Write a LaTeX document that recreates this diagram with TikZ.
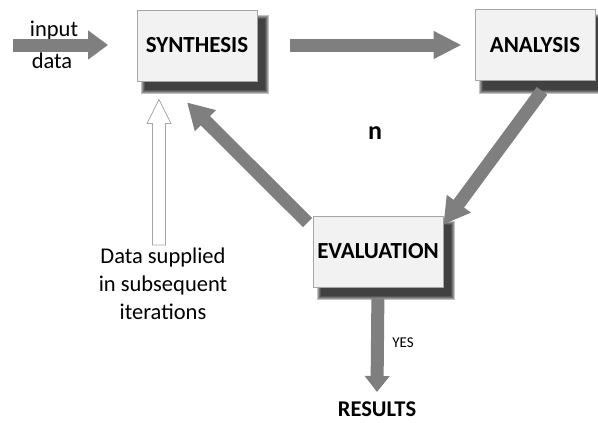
\documentclass[tikz,border=0pt]{standalone}
\usepackage{fontspec}
\setmainfont{Carlito}
\usetikzlibrary{arrows.meta,calc,backgrounds}
\definecolor{arrowgray}{HTML}{7F7F7F}
\definecolor{boxfill}{HTML}{F2F2F2}
\definecolor{boxline}{HTML}{A6A6A6}
\begin{document}
\begin{tikzpicture}[x=1pt,y=-1pt,
  box/.style={draw=boxline, fill=boxfill, line width=0.8pt, minimum width=120pt,
    minimum height=71pt, inner sep=0pt, font=\fontsize{23}{27}\selectfont\bfseries},
  bigarrow/.style={draw=arrowgray, line width=13pt},
  lbl/.style={inner sep=0pt, font=\fontsize{22.5}{28}\selectfont},
  boldlbl/.style={inner sep=0pt, font=\fontsize{22.5}{26}\selectfont\bfseries},
  hollow/.style={draw=boxline, fill=white, line width=0.8pt, line join=miter}
]
\useasboundingbox (0,0) rectangle (598,423);

% boxes
\node[box, minimum width=120pt] (syn) at (197,45.5) {SYNTHESIS};
\node[box, minimum width=120pt] (ana) at (535,45) {ANALYSIS};
\node[box, minimum width=130pt] (eva) at (378,251.5) {EVALUATION};

% shadows
\begin{scope}[on background layer]
  \foreach \b in {syn,ana,eva} {
    \foreach \k in {0,...,4} {
      \fill[black, opacity=0.24] ($(\b.north west)+(4+\k,5+\k)$) rectangle ($(\b.south east)+(12-\k,13-\k)$);
    }
  }
\end{scope}

% texts
\node[lbl, anchor=base] (inp) at (54,37) {input};
\node[lbl, anchor=base] (dat) at (52,68) {data};
\node[boldlbl, font=\fontsize{26}{30}\selectfont\bfseries] (nn) at (375,133) {n};
\node[inner sep=0pt, font=\fontsize{15}{18}\selectfont] (yes) at (403,343) {YES};
\node[boldlbl] (res) at (377,409) {RESULTS};
\node[lbl, align=center, anchor=north] (ds) at (163,248) {Data supplied\\in subsequent\\iterations};

% input arrow
\coordinate (inL) at (13,45);
\coordinate (inR) at (108,45);
\draw[bigarrow, -{Triangle[width=28pt,length=20pt]}] (inL) -- (inR);

% synthesis -> analysis
\draw[bigarrow, -{Triangle[width=26pt,length=28pt]}, shorten <=33pt, shorten >=13pt]
  (syn.east |- 0,45) -- (ana.west |- 0,45);

% analysis -> evaluation
\draw[bigarrow, -{Triangle[width=28pt,length=26pt]}]
  ($(ana.south)+(7,10)$) -- ($(eva.north east)+(0,9)$);

% evaluation -> synthesis
\draw[bigarrow, -{Triangle[width=28pt,length=26pt]}]
  ($(eva.north west)+(-5,7)$) -- ($(syn.south)+(-10,21)$);

% evaluation -> results
\draw[bigarrow, -{Triangle[width=24pt,length=16pt]}, shorten <=11pt]
  (eva.south) -- (res.north |- 0,392);

% hollow arrow (data supplied)
\coordinate (hT) at ($(syn.south)+(-38,18)$);
\draw[hollow] (hT) -- ++(12,24) -- ++(-5.5,0) -- ($(ds.north)+(2.5,-3)$) -- ($(ds.north)+(-10.5,-3)$)
  -- ($(hT)+(-6.5,24)$) -- ++(-5.5,0) -- cycle;
\end{tikzpicture}
\end{document}
